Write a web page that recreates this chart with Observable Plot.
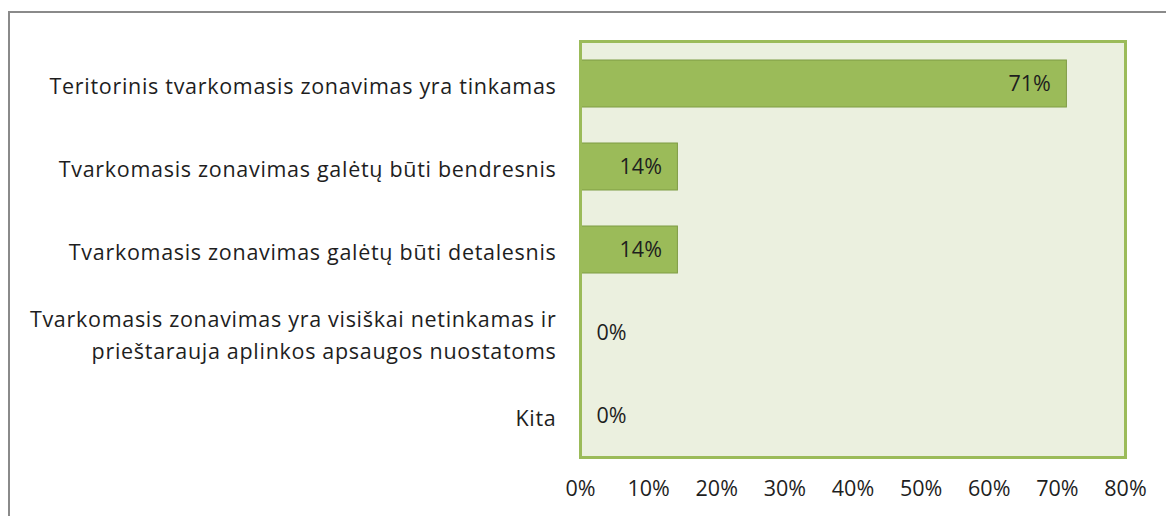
<!DOCTYPE html>
<html>
<head>
<meta charset="utf-8">
<script src="https://cdn.jsdelivr.net/npm/d3@7"></script>
<script src="https://cdn.jsdelivr.net/npm/@observablehq/plot@0.6"></script>
<style>
  html, body { margin: 0; padding: 0; background: #fff; overflow: hidden; }
  #wrap { position: relative; width: 1166px; height: 516px; }
  #outer { position: absolute; left: 8px; top: 11px; width: 1200px; height: 600px;
           border-top: 2px solid #8a8a8a; border-left: 2px solid #8a8a8a; }
  #chart { position: absolute; left: 0; top: 0; }
  .catlab text { letter-spacing: 0.7px; }
</style>
</head>
<body>
<div id="wrap"><div id="outer"></div><div id="chart"></div></div>
<script>
const categories = [
  "Teritorinis tvarkomasis zonavimas yra tinkamas",
  "Tvarkomasis zonavimas galėtų būti bendresnis",
  "Tvarkomasis zonavimas galėtų būti detalesnis",
  "Tvarkomasis zonavimas yra visiškai netinkamas ir\nprieštarauja aplinkos apsaugos nuostatoms",
  "Kita"
];
const values = [71.4, 14.3, 14.3, 0, 0];
const valueLabels = ["71%", "14%", "14%", "0%", "0%"];
const xTicks = [0, 10, 20, 30, 40, 50, 60, 70, 80];

const data = categories.map((c, i) => ({cat: c, value: values[i], label: valueLabels[i]}));
const font = "'Open Sans', sans-serif";
const fs = 21.5;

const chart = Plot.plot({
  width: 1166,
  height: 516,
  marginLeft: 580,
  marginRight: 41,
  marginTop: 41,
  marginBottom: 59,
  style: {fontFamily: font, fontSize: fs + "px", color: "#1e1e1e", background: "transparent"},
  x: {domain: [0, 80], ticks: xTicks, tickFormat: d => d + "%", label: null},
  y: {domain: categories, padding: 0, label: null, axis: null},
  marks: [
    Plot.frame({fill: "#EBF0DF", stroke: "none"}),
    Plot.axisX({ticks: xTicks, tickFormat: d => d + "%", tickSize: 0, tickPadding: 23, fontSize: fs, fill: "#1e1e1e"}),
    Plot.barX(data, {y: "cat", x: "value", insetTop: 18, insetBottom: 18, fill: "#9BBB59", stroke: "#7F9C45", strokeWidth: 1}),
    Plot.ruleX([0], {stroke: "#8a8a8a", strokeWidth: 2}),
    Plot.text(data, {y: "cat", frameAnchor: "left", text: "cat", textAnchor: "end", dx: -24, lineHeight: 1.5, fontSize: fs, fill: "#1e1e1e", className: "catlab"}),
    Plot.text(data.filter(d => d.value > 0), {y: "cat", x: "value", text: "label", textAnchor: "end", dx: -16, fontSize: fs, fill: "#1e1e1e"}),
    Plot.text(data.filter(d => d.value === 0), {y: "cat", x: "value", text: "label", textAnchor: "start", dx: 16, fontSize: fs, fill: "#1e1e1e"}),
    Plot.frame({stroke: "#9BBB59", strokeWidth: 3, fill: "none"})
  ]
});
document.getElementById("chart").appendChild(chart);
</script>
</body>
</html>
